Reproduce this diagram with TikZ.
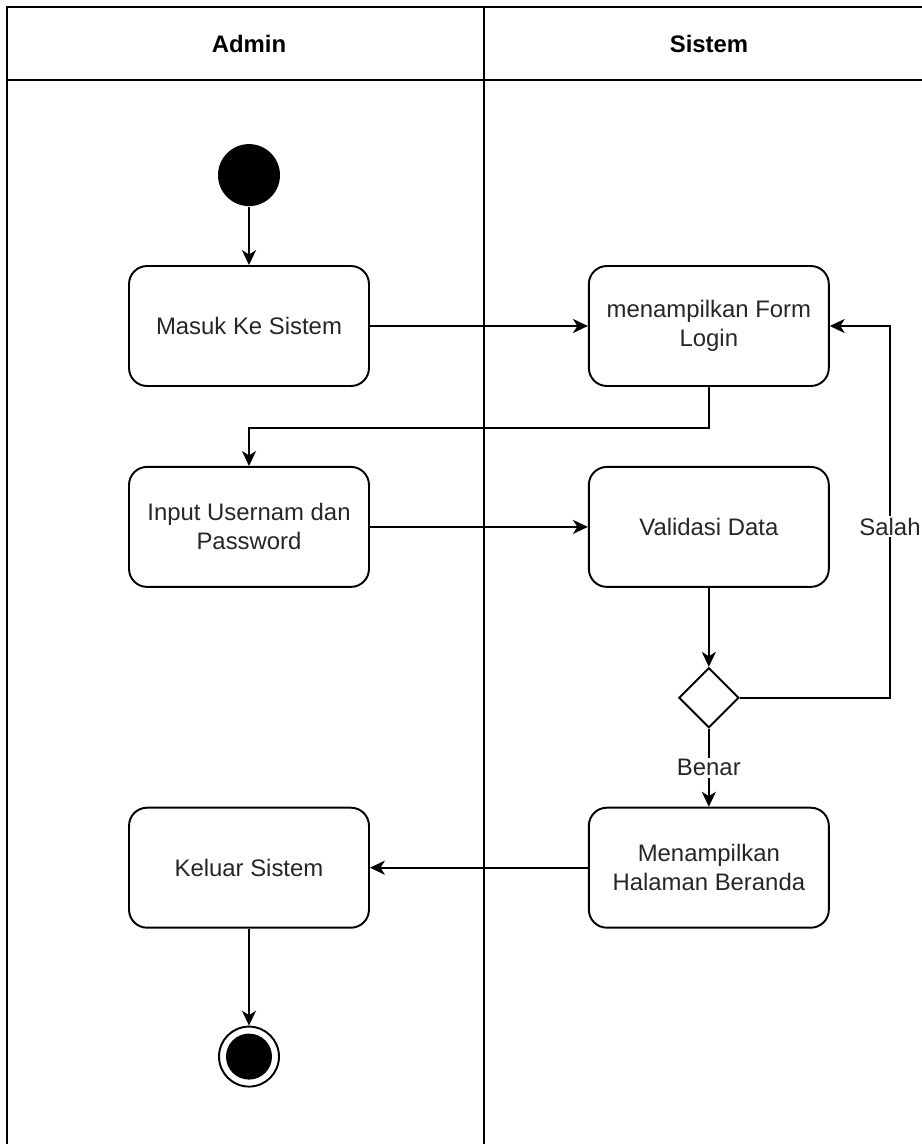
\documentclass[tikz,border=0pt]{standalone}
\usepackage{fontspec}
\setmainfont{Liberation Sans}
\usetikzlibrary{positioning, shapes.geometric, arrows.meta}

\begin{document}
\begin{tikzpicture}[x=0.02cm, y=-0.02cm, node distance=1.58cm and 4.36cm,
        line width=1.1pt, >={Stealth[length=8.5pt, width=8pt, inset=2.5pt]},
        font=\fontsize{13.6}{16.5}\selectfont, text=black!85,
        act/.style={draw, rounded corners=0.36cm, minimum width=4.8cm, minimum height=2.4cm, align=center},
        decision/.style={draw, diamond, inner sep=0pt, minimum width=1.2cm, minimum height=1.2cm},
        startnode/.style={circle, fill=black, minimum size=1.24cm, inner sep=0pt},
        endnode/.style={circle, draw, minimum size=1.2cm, inner sep=0pt,
            path picture={\fill (path picture bounding box.center) circle (0.46cm);}},
        lbl/.style={fill=white, inner sep=1pt},
        lane/.style={font=\bfseries\fontsize{13.6}{16.5}\selectfont, text=black}]
    \useasboundingbox (0,0) rectangle (921,1144);
    \draw (7,1200) |- (1000,7);
    \draw (7,80) -- (1000,80);
    \draw (484,7) -- (484,1200);
    \node[lane] (admin)  at (249,44) {Admin};
    \node[lane] (sistem) at (709,44) {Sistem};

    \node[act]                               (masuk)    at (249,326) {Masuk Ke Sistem};
    \node[startnode, above=1.16cm of masuk]  (start)    {};
    \node[act, right=of masuk]               (form)     {menampilkan Form\\Login};
    \node[act, below=of masuk]               (input)    {Input Usernam dan\\Password};
    \node[act, right=of input]               (validasi) {Validasi Data};
    \node[decision, below=of validasi]       (cek)      {};
    \node[act, below=1.56cm of cek]          (beranda)  {Menampilkan\\Halaman Beranda};
    \node[act, left=of beranda]              (keluar)   {Keluar Sistem};
    \node[endnode, below=1.94cm of keluar]   (end)      {};
    \coordinate (balik) at (890,0);

    \draw[->] (start) -- (masuk);
    \draw[->] (masuk) -- (form);
    \draw[->] (form.south) -- ++(0,41) -| (input.north);
    \draw[->] (input) -- (validasi);
    \draw[->] (validasi) -- (cek);
    \draw[->] (cek.east) -- (cek.east -| balik) |- node[lbl, pos=0.23] {Salah} (form.east);
    \draw[->] (cek) -- node[lbl] {Benar} (beranda);
    \draw[->] (beranda) -- (keluar);
    \draw[->] (keluar) -- (end);
\end{tikzpicture}
\end{document}
